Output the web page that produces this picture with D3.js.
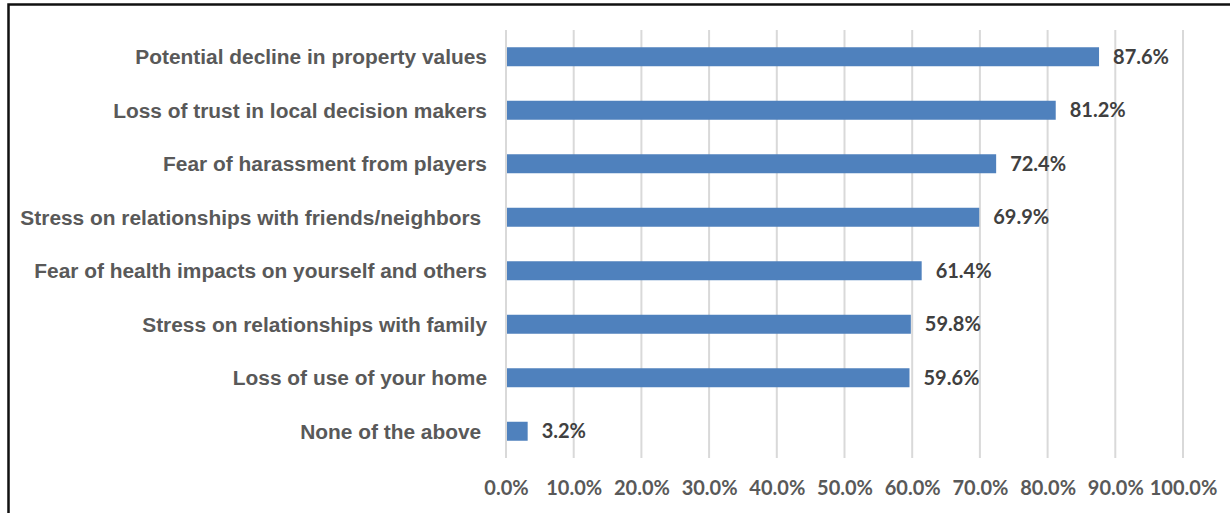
<!DOCTYPE html>
<html>
<head>
<meta charset="utf-8">
<script src="https://cdn.jsdelivr.net/npm/d3@7"></script>
<style>
  html, body { margin: 0; padding: 0; background: #fff; }
  svg { display: block; }
  text { white-space: pre; }
</style>
</head>
<body>
<svg id="chart" width="1230" height="513"></svg>
<script>
// Survey responses: share of respondents reporting each concern
const categories = [
  "Potential decline in property values",
  "Loss of trust in local decision makers",
  "Fear of harassment from players",
  "Stress on relationships with friends/neighbors ",
  "Fear of health impacts on yourself and others",
  "Stress on relationships with family",
  "Loss of use of your home",
  "None of the above "
];
const values = [87.6, 81.2, 72.4, 69.9, 61.4, 59.8, 59.6, 3.2];
const tickValues = [0, 10, 20, 30, 40, 50, 60, 70, 80, 90, 100];

const svg = d3.select("#chart");
const W = 1230, H = 513;

// frame around the chart area
svg.append("rect")
  .attr("x", 8.5).attr("y", 4.5)
  .attr("width", W + 20).attr("height", H + 20)
  .attr("fill", "#fff")
  .attr("stroke", "#111").attr("stroke-width", 2.5);

const plot = { left: 506, right: 1183, top: 30, bottom: 458 };

const x = d3.scaleLinear().domain([0, 100]).range([plot.left, plot.right]);
const y = d3.scaleBand().domain(categories).range([plot.top, plot.bottom]).paddingInner(0.645).paddingOuter(0.3225);

// vertical gridlines
svg.append("g").selectAll("line").data(tickValues).join("line")
  .attr("x1", d => x(d)).attr("x2", d => x(d))
  .attr("y1", plot.top).attr("y2", plot.bottom)
  .attr("stroke", "#d9d9d9").attr("stroke-width", 2);

// bars
svg.append("g").selectAll("rect").data(values).join("rect")
  .attr("x", x(0) + 1)
  .attr("y", (d, i) => y(categories[i]))
  .attr("width", d => x(d) - x(0) - 1)
  .attr("height", y.bandwidth())
  .attr("fill", "#4f81bd");

// value labels
svg.append("g").selectAll("text").data(values).join("text")
  .attr("x", d => x(d) + 14)
  .attr("y", (d, i) => y(categories[i]) + y.bandwidth() / 2)
  .attr("dy", "0.36em")
  .attr("font-family", "Lato, 'Liberation Sans', sans-serif")
  .attr("font-weight", "bold")
  .attr("font-size", 20)
  .attr("fill", "#404040")
  .text(d => d.toFixed(1) + "%");

// category axis labels
svg.append("g").selectAll("text").data(categories).join("text")
  .attr("x", 487)
  .attr("y", d => y(d) + y.bandwidth() / 2)
  .attr("dy", "0.36em")
  .attr("text-anchor", "end")
  .attr("font-family", "'Liberation Sans', Arial, sans-serif")
  .attr("font-weight", "bold")
  .attr("font-size", 20.9)
  .attr("fill", "#595959")
  .text(d => d);

// x axis tick labels
const xAxis = d3.axisBottom(x)
  .tickValues(tickValues)
  .tickSize(0)
  .tickPadding(0)
  .tickFormat(d => d.toFixed(1) + "%");

const gx = svg.append("g")
  .attr("transform", `translate(0, ${plot.bottom})`)
  .call(xAxis);
gx.select(".domain").remove();
gx.selectAll("text")
  .attr("y", 30)
  .attr("dy", "0.36em")
  .attr("font-family", "Lato, 'Liberation Sans', sans-serif")
  .attr("font-weight", "bold")
  .attr("font-size", 20)
  .attr("fill", "#595959");
</script>
</body>
</html>
